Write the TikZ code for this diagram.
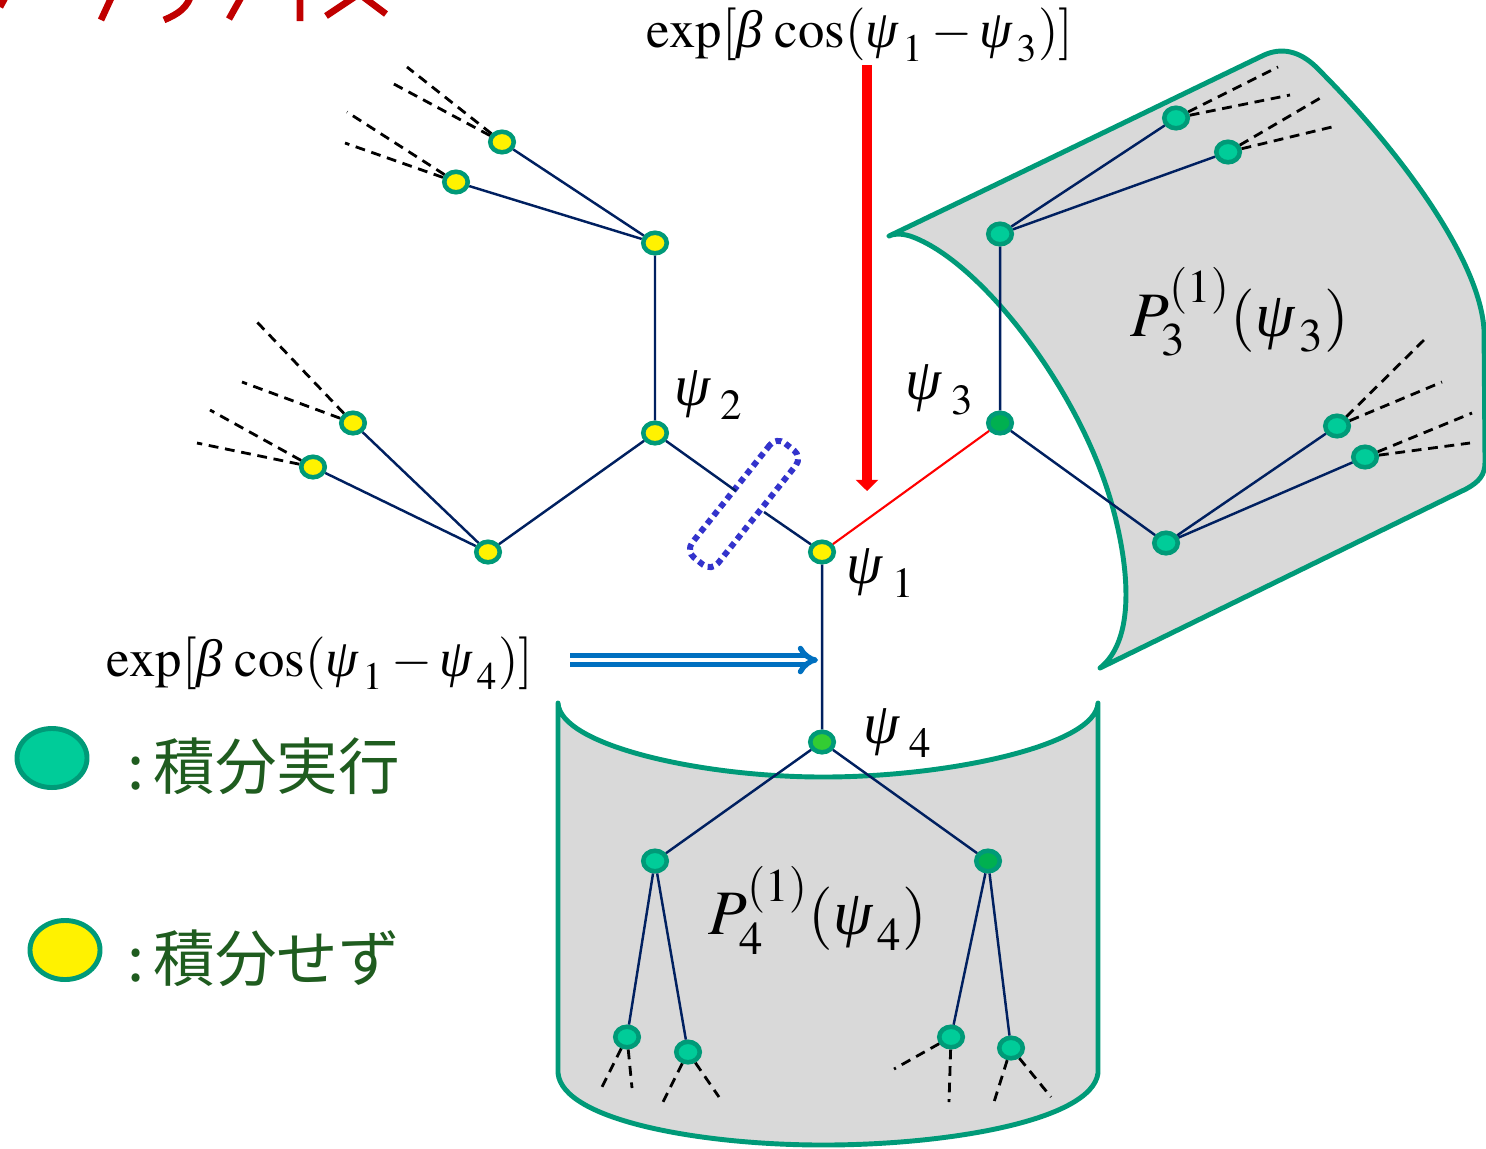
\documentclass[tikz,border=0pt]{standalone}
\usepackage{mathptmx}
\usepackage[no-math]{fontspec}
\usetikzlibrary{arrows.meta,shapes.geometric}
\newfontfamily\jpfont{Noto Sans CJK JP}
\newfontfamily\grk{Liberation Serif}
\newcommand{\psy}{\mbox{\grk\itshape ψ}}
\newcommand{\bet}{\mbox{\grk\itshape β}}
\newcommand{\upone}{\raisebox{2pt}{$\scriptstyle(1)$}}
\definecolor{rim}{HTML}{009A78}
\definecolor{integ}{HTML}{00CC99}
\definecolor{deepg}{HTML}{00B050}
\definecolor{lightg}{HTML}{33CC33}
\definecolor{bondc}{HTML}{002060}
\definecolor{sheetc}{HTML}{D9D9D9}
\definecolor{cutc}{HTML}{3333CC}
\definecolor{arrblue}{HTML}{0070C0}
\definecolor{jpgreen}{HTML}{1F5C1F}
\definecolor{titlered}{HTML}{C00000}

\begin{document}
\begin{tikzpicture}[x=0.01cm,y=-0.01cm,
  yel/.style={ellipse,draw=rim,fill=yellow,line width=1.3pt,minimum width=0.235cm,minimum height=0.205cm,inner sep=0pt},
  grn/.style={yel,fill=integ},
  bond/.style={draw=bondc,line width=0.7pt},
  leaf/.style={black,line width=0.8pt,dash pattern=on 2.8pt off 1.9pt},
  sheet/.style={draw=rim,fill=sheetc,line width=1.4pt,line join=round},
  lbl/.style={inner sep=0pt,font=\fontsize{15}{17}\selectfont},
  psil/.style={inner sep=0pt,font=\fontsize{16.5}{19}\selectfont},
  big/.style={inner sep=0pt,font=\fontsize{18}{21}\selectfont},
  legtext/.style={anchor=west,inner sep=0pt,font=\jpfont\fontsize{17.5}{20}\selectfont}]
  \useasboundingbox (0,0) rectangle (1486,1148);
  \begin{scope}
    \clip (0,0) rectangle (420,40);
    \draw[titlered,line width=1.9pt] (6,-4)--(0,7) (113,-6)--(101,20) (192,-8) .. controls (188,8) and (178,14) .. (164,20)
      (243,-6)--(229,19) (300,-5)--(300,21) (356,-4)--(326,16) (362,-4)--(386,14);
  \end{scope}
  \draw[sheet] (889,236) .. controls (1010,178) and (1150,110) .. (1262,56) .. controls (1282,46) and (1300,52) .. (1315,66)
    .. controls (1400,150) and (1480,260) .. (1484,330) -- (1485,462) .. controls (1485,475) and (1479,482) .. (1466,489)
    -- (1100,668) .. controls (1135,640) and (1130,570) .. (1112,505) .. controls (1080,390) and (980,260) .. (910,236)
    .. controls (900,233) and (893,234) .. (889,236) -- cycle;
  \draw[sheet] (558,703) .. controls (560,745) and (700,777) .. (823,777) .. controls (950,777) and (1096,745) .. (1098,703)
    -- (1098,1073) .. controls (1092,1120) and (950,1145) .. (823,1145) .. controls (700,1145) and (562,1120) .. (558,1073) -- cycle;

  \node[yel] (n1) at (822,552) {};
  \node[yel] (n2) at (655,433) {};
  \node[grn,fill=deepg] (n3) at (1000,423) {};
  \node[grn,fill=lightg] (n4) at (822,742) {};
  \node[yel] (a) at (488,552) {};
  \node[yel] (b) at (353,423) {};
  \node[yel] (c) at (313,467) {};
  \node[yel] (d) at (655,243) {};
  \node[yel] (e) at (502,142) {};
  \node[yel] (f) at (456,182) {};
  \node[grn] (g) at (1000,234) {};
  \node[grn] (h) at (1176,118) {};
  \node[grn] (i) at (1228,152) {};
  \node[grn] (j) at (1166,543) {};
  \node[grn] (k) at (1337,426) {};
  \node[grn] (l) at (1365,457) {};
  \node[grn] (m) at (655,861) {};
  \node[grn,fill=deepg] (o) at (988,861) {};
  \node[grn] (p) at (627,1037) {};
  \node[grn] (q) at (688,1052) {};
  \node[grn] (r) at (951,1037) {};
  \node[grn] (s) at (1011,1048) {};

  \coordinate (ca) at (736,491); \coordinate (cb) at (764,512);
  \node[draw=cutc,line width=1.7pt,dash pattern=on 1.7pt off 1.3pt,rounded corners=3pt,minimum width=1.46cm,minimum height=0.33cm,rotate=51.5] (cut) at (744,504) {};
  \draw[bond] (n2)--(ca) (cb)--(n1) (n2)--(d) (d)--(e) (d)--(f) (n2)--(a) (a)--(b) (a)--(c);
  \draw[red,line width=0.6pt] (n1)--(n3);
  \draw[bond] (n3)--(g) (g)--(h) (g)--(i) (n3)--(j) (j)--(k) (j)--(l) (n1)--(n4) (n4)--(m) (n4)--(o)
    (m)--(p) (m)--(q) (o)--(r) (o)--(s);
  \foreach \src/\x/\y [count=\t] in {e/407/67,e/392/83,f/347/112,f/345/143,b/257/322,b/242/382,c/210/410,c/197/443,
      h/1278/67,h/1290/95,i/1322/97,i/1336/126,k/1427/337,k/1442/382,l/1472/413,l/1470/443,
      p/602/1087,p/632/1088,q/663/1102,q/719/1097,r/894/1069,r/949/1102,s/994/1102,s/1051/1097}
    {\coordinate (tip\t) at (\x,\y); \draw[leaf] (\src) -- (tip\t);}

  \node[lbl] (f13) at (860,35) {$\exp[\bet\,\cos(\psy_{\,1}-\psy_{\,3})]$};
  \node[lbl] (f14) at (320,663) {$\exp[\bet\,\cos(\psy_{\,1}-\psy_{\,4})]$};
  \coordinate (r0) at (867,65); \coordinate (r1) at (867,491);
  \draw[red,line width=2.85pt,-{Triangle[width=6.3pt,length=3.2pt]}] (r0)--(r1);
  \coordinate (b0) at (570,660); \coordinate (b1) at (818,660);
  \draw[arrblue,double=white,double distance=1pt,line width=1.5pt,-{Implies}] (b0)--(b1);

  \node[psil] (l1) at (881,573) {$\psy_{\;1}$};
  \node[psil] (l2) at (709,395) {$\psy_{\;2}$};
  \node[psil] (l3) at (940,390) {$\psy_{\;3}$};
  \node[psil] (l4) at (898,733) {$\psy_{\;4}$};
  \node[big] (pp3) at (1240,312) {$P_3^{\upone}(\psy_{\,3})$};
  \node[big] (pp4) at (818,910) {$P_4^{\upone}(\psy_{\,4})$};

  \node[grn,line width=1.4pt,minimum width=0.7cm,minimum height=0.59cm] (kg) at (52,758) {};
  \node[yel,line width=1.4pt,minimum width=0.7cm,minimum height=0.59cm] (ky) at (65,950) {};
  \node[legtext,text=jpgreen] (kgt) at (127,766) {:\hspace{2.5pt}積分実行};
  \node[legtext,text=jpgreen] (kyt) at (127,958) {:\hspace{2.5pt}積分せず};
\end{tikzpicture}
\end{document}
